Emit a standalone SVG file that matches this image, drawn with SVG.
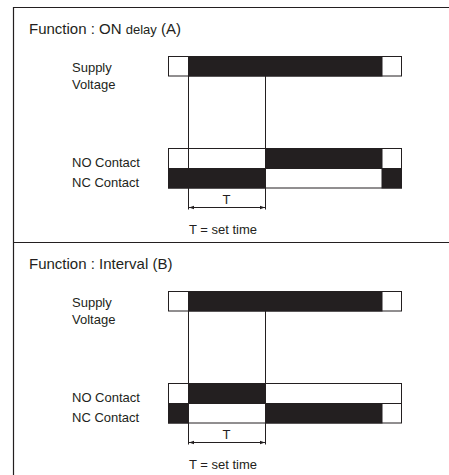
<svg xmlns="http://www.w3.org/2000/svg" width="449" height="475" viewBox="0 0 449 475">
<style>
text{font-family:"Liberation Sans",Arial,sans-serif;fill:#231f20}
.t{font-size:15px}
.l{font-size:13px}
.frame{stroke:#231f20;stroke-width:1.2;fill:none}
.on{fill:#231f20;stroke:#231f20;stroke-width:1}
.off{fill:#fff;stroke:#231f20;stroke-width:1}
.v{stroke:#231f20;stroke-width:1;fill:none}
.dim{stroke:#231f20;stroke-width:1;fill:none;marker-start:url(#ah);marker-end:url(#ah)}
</style>
<defs>
<marker id="ah" viewBox="0 0 6 6" refX="6" refY="3" markerWidth="5" markerHeight="5" orient="auto-start-reverse" markerUnits="userSpaceOnUse">
<path d="M0,0.8 L6,3 L0,5.2 Z" fill="#231f20"/>
</marker>
</defs>
<rect width="449" height="475" fill="#fff"/>
<g id="frame">
<path class="frame" d="M13.5,475 V7.5 H449 M13.5,242.5 H449"/>
</g>

<g id="panelA">
<text class="t" x="29" y="34">Function : ON <tspan font-size="13">delay</tspan> (A)</text>
<g id="A-supply">
<text class="l" x="72" y="72">Supply</text>
<text class="l" x="72" y="89">Voltage</text>
<rect class="off" x="168.5" y="56.5" width="233" height="19.5"/>
<rect class="on" x="188.5" y="56.5" width="193.5" height="19.5"/>
</g>
<g id="A-no">
<text class="l" x="72" y="167">NO Contact</text>
<rect class="off" x="168.5" y="148.5" width="233" height="20"/>
<rect class="on" x="265.5" y="148.5" width="116.5" height="20"/>
</g>
<g id="A-nc">
<text class="l" x="72" y="187">NC Contact</text>
<rect class="off" x="168.5" y="168.5" width="233" height="19.5"/>
<rect class="on" x="168.5" y="168.5" width="97" height="19.5"/>
<rect class="on" x="382" y="168.5" width="19.5" height="19.5"/>
</g>
<text class="l" x="226.5" y="204" text-anchor="middle">T</text>
<text class="l" x="189" y="234">T = set time</text>
</g>

<g id="panelB">
<text class="t" x="29" y="269">Function : Interval (B)</text>
<g id="B-supply">
<text class="l" x="72" y="307">Supply</text>
<text class="l" x="72" y="324">Voltage</text>
<rect class="off" x="168.5" y="291.5" width="233" height="19.5"/>
<rect class="on" x="188.5" y="291.5" width="193.5" height="19.5"/>
</g>
<g id="B-no">
<text class="l" x="72" y="402">NO Contact</text>
<rect class="off" x="168.5" y="383.5" width="233" height="20"/>
<rect class="on" x="188.5" y="383.5" width="77" height="20"/>
</g>
<g id="B-nc">
<text class="l" x="72" y="422">NC Contact</text>
<rect class="off" x="168.5" y="403.5" width="233" height="19.5"/>
<rect class="on" x="168.5" y="403.5" width="20" height="19.5"/>
<rect class="on" x="265.5" y="403.5" width="116.5" height="19.5"/>
</g>
<text class="l" x="226.5" y="439" text-anchor="middle">T</text>
<text class="l" x="189" y="469">T = set time</text>
</g>

<g id="connectors">
<path class="v" d="M188.5,76 V209.5 M265.5,76 V209.5"/>
<path class="dim" d="M189,207.5 H265"/>
<path class="v" d="M188.5,311 V444.5 M265.5,311 V444.5"/>
<path class="dim" d="M189,442.5 H265"/>
</g>
</svg>
